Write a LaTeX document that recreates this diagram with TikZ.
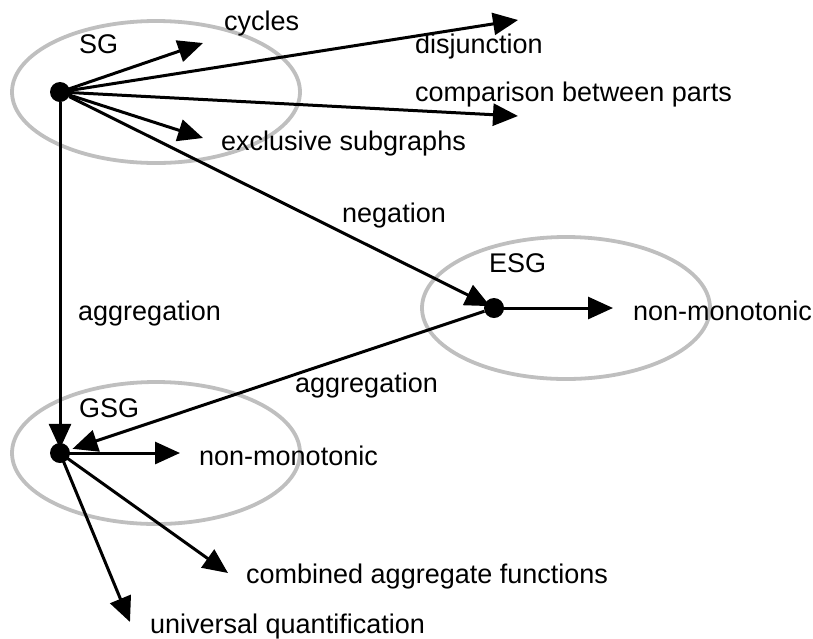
\documentclass[tikz,border=0pt]{standalone}
\usepackage{fontspec}
\setmainfont{Liberation Sans}
\usetikzlibrary{arrows.meta,shapes.geometric}
\begin{document}
\begin{tikzpicture}[x=1pt,y=-1pt,
  region/.style={draw=black!25, line width=3.8pt, ellipse, inner sep=0pt,
                 minimum width=288pt, minimum height=142pt},
  dot/.style={circle, fill=black, inner sep=0pt, minimum size=20pt},
  link/.style={line width=3pt, -{Triangle[length=25pt,width=22pt]}},
  lbl/.style={anchor=base west, inner sep=0pt, font=\fontsize{27}{31}\selectfont},
]
\useasboundingbox (0,0) rectangle (813,638);

% graph regions
\node[region] (sgarea)  at (156,92)  {};
\node[region] (esgarea) at (566,308) {};
\node[region] (gsgarea) at (156,453) {};

% graph roots
\node[dot] (sg)  at (60,92)   {};
\node[dot] (esg) at (494,308) {};
\node[dot] (gsg) at (60,453)  {};

% free arrow ends
\coordinate (cyc)  at (203,43);
\coordinate (dis)  at (518,20);
\coordinate (cmp)  at (518,116);
\coordinate (exc)  at (203,138);
\coordinate (enm)  at (613,308);
\coordinate (gnm)  at (180,453);
\coordinate (comb) at (228,573);
\coordinate (univ) at (130,622);

% labels
\node[lbl] (sglbl)  at (79,53)   {SG};
\node[lbl] (esglbl) at (489,272) {ESG};
\node[lbl] (gsglbl) at (79,417)  {GSG};
\node[lbl] (tcyc)  at (224,30)  {cycles};
\node[lbl] (tdis)  at (415,53)  {disjunction};
\node[lbl] (tcmp)  at (415,101) {comparison between parts};
\node[lbl] (texc)  at (221,150) {exclusive subgraphs};
\node[lbl] (tneg)  at (342,222) {negation};
\node[lbl] (tagl)  at (78,320)  {aggregation};
\node[lbl] (tagm)  at (295,392) {aggregation};
\node[lbl] (tenm)  at (633,320) {non-monotonic};
\node[lbl] (tgnm)  at (199,465) {non-monotonic};
\node[lbl] (tcomb) at (246,583) {combined aggregate functions};
\node[lbl] (tuniv) at (150,633) {universal quantification};

% connectors
\draw[link] (sg.center) -- (cyc);
\draw[link] (sg.center) -- (dis);
\draw[link] (sg.center) -- (cmp);
\draw[link] (sg.center) -- (exc);
\draw[link, shorten >=-6pt] (sg) -- (esg);
\draw[link, shorten >=-6pt] (sg) -- (gsg);
\draw[link, shorten >=3pt] (esg) -- (gsg);
\draw[link] (esg.center) -- (enm);
\draw[link] (gsg.center) -- (gnm);
\draw[link] (gsg.center) -- (comb);
\draw[link] (gsg.center) -- (univ);
\end{tikzpicture}
\end{document}
